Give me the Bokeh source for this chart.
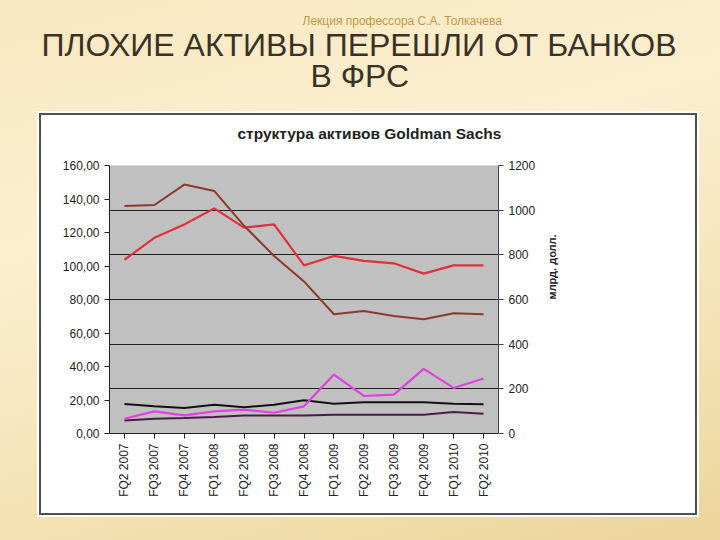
import math
from bokeh.plotting import figure
from bokeh.models import (Range1d, LinearAxis, FixedTicker, Grid, Title, Legend, LegendItem)
from bokeh.embed import file_html
from bokeh.resources import INLINE

# ---------------- data ----------------
quarters = ["FQ2 2007", "FQ3 2007", "FQ4 2007", "FQ1 2008", "FQ2 2008", "FQ3 2008",
            "FQ4 2008", "FQ1 2009", "FQ2 2009", "FQ3 2009", "FQ4 2009", "FQ1 2010", "FQ2 2010"]
short_term_right = [778, 876, 936, 1008, 922, 936, 753, 795, 773, 762, 716, 753, 753]
net_credits = [135.8, 136.4, 148.6, 144.8, 124.0, 106.0, 90.8, 71.2, 73.2, 70.2, 68.2, 71.8, 71.2]
cash = [8.8, 13.2, 10.8, 13.2, 14.2, 12.4, 16.2, 35.2, 22.4, 23.2, 38.6, 27.2, 32.8]
fixed_assets = [7.8, 8.8, 9.2, 9.8, 10.8, 10.8, 10.8, 11.2, 11.2, 11.2, 11.2, 12.8, 11.8]
other_assets = [17.6, 16.2, 15.2, 17.2, 15.6, 17.2, 19.8, 17.8, 18.6, 18.6, 18.6, 17.8, 17.4]

left_ticks = [0, 20, 40, 60, 80, 100, 120, 140, 160]
right_ticks = [0, 200, 400, 600, 800, 1000, 1200]

label_short_term = ["краткосрочные", "инвестиции(права", "я шкала"]
label_net_credits = ["чистые кредиты"]
label_cash = ["наличность"]
label_fixed = ["чистые", "фиксированные", "активы"]
label_other = ["другие активы"]

title_line1 = "ПЛОХИЕ АКТИВЫ ПЕРЕШЛИ ОТ БАНКОВ"
title_line2 = "В ФРС"
subtitle = "Лекция профессора С.А. Толкачева"
chart_title = "структура активов Goldman Sachs"
right_axis_title = "млрд. долл."

# ---------------- figure ----------------
p = figure(frame_width=389, frame_height=268, x_range=quarters, y_range=Range1d(0, 160),
           output_backend="svg", toolbar_location=None,
           min_border_left=109, min_border_right=0, min_border_top=165, min_border_bottom=107)
p.border_fill_color = None
p.background_fill_color = "#c0c0c0"
p.outline_line_color = None
p.styles = {
    "background": (
        "linear-gradient(#ffffff,#ffffff) 41px 115px / 654px 398px no-repeat, "
        "linear-gradient(#505050,#505050) 39px 113px / 658px 402px no-repeat, "
        "linear-gradient(#ffffff,#ffffff) 37px 111px / 662px 406px no-repeat, "
        "linear-gradient(165deg, #f8e8c0 0%, #fbefd0 30%, #f3e0b0 65%, #e6cc8a 100%)"
    )
}

p.extra_y_ranges = {"right": Range1d(0, 1200)}

# left axis
ya = p.yaxis[0]
ya.ticker = FixedTicker(ticks=left_ticks)
ya.major_label_overrides = {t: f"{t},00" for t in left_ticks}
ya.major_label_text_font = "Liberation Sans"
ya.major_label_text_font_size = "12px"
ya.major_label_text_color = "#222222"
ya.axis_line_color = "#222222"
ya.major_tick_line_color = "#222222"
ya.major_tick_out = 5
ya.major_tick_in = 0
ya.minor_tick_line_color = None

# right axis
ra = LinearAxis(y_range_name="right", ticker=FixedTicker(ticks=right_ticks))
ra.major_label_text_font = "Liberation Sans"
ra.major_label_text_font_size = "12px"
ra.major_label_text_color = "#222222"
ra.axis_line_color = "#444444"
ra.major_tick_line_color = "#444444"
ra.major_tick_out = 5
ra.major_tick_in = 0
ra.minor_tick_line_color = None
ra.axis_label = right_axis_title
ra.axis_label_text_font = "Liberation Sans"
ra.axis_label_text_font_size = "11px"
ra.axis_label_text_font_style = "bold"
ra.axis_label_text_color = "#222222"
ra.axis_label_standoff = 14
if "axis_label_orientation" in ra.properties():
    ra.axis_label_orientation = math.pi / 2
p.add_layout(ra, "right")

# bottom axis
xa = p.xaxis[0]
xa.major_label_orientation = math.pi / 2
xa.major_label_text_font = "Liberation Sans"
xa.major_label_text_font_size = "12px"
xa.major_label_text_color = "#222222"
xa.axis_line_color = "#222222"
xa.major_tick_line_color = "#222222"
xa.major_tick_out = 5
xa.major_tick_in = 0

# grid lines from the right scale
p.xgrid.grid_line_color = None
p.ygrid.grid_line_color = None
p.add_layout(Grid(dimension=1, ticker=FixedTicker(ticks=right_ticks[1:]), y_range_name="right",
                  grid_line_color="#202020", grid_line_width=1.2), "center")

# ---------------- series ----------------
r_st = p.line(quarters, short_term_right, y_range_name="right", line_color="#e0303a", line_width=2.2)
r_nc = p.line(quarters, net_credits, line_color="#8a3a2c", line_width=2)
r_fa = p.line(quarters, fixed_assets, line_color="#4a1a48", line_width=2)
r_oa = p.line(quarters, other_assets, line_color="#111111", line_width=2)
r_ca = p.line(quarters, cash, line_color="#e040e0", line_width=2.2)
r_blank = p.line(x=[], y=[], line_alpha=0)   # swatch-less legend rows (wrapped text / gaps)

rows = []
def add_entry(lines, renderer, gap):
    rows.append((lines[0], renderer))
    for extra in lines[1:]:
        rows.append((extra, r_blank))
    for _ in range(gap):
        rows.append((" ", r_blank))

add_entry(label_short_term, r_st, 1)
add_entry(label_net_credits, r_nc, 3)
add_entry(label_cash, r_ca, 3)
add_entry(label_fixed, r_fa, 1)
add_entry(label_other, r_oa, 0)

legend = Legend(items=[LegendItem(label=t, renderers=[r]) for t, r in rows],
                location="top_left", margin=0, padding=6, spacing=0,
                glyph_width=14, glyph_height=16, label_standoff=3, label_height=16,
                label_width=127,
                label_text_font="Liberation Sans", label_text_font_size="12px",
                label_text_color="#222222", background_fill_alpha=0, border_line_color=None)
if "ncols" in legend.properties():
    legend.ncols = 1
p.add_layout(legend, "right")

# ---------------- titles (stacked above the frame) ----------------
p.add_layout(Title(text=chart_title, align="left", offset=128, standoff=48,
                   text_font="Liberation Sans", text_font_size="15.5px",
                   text_font_style="bold", text_color="#222222"), "above")
p.add_layout(Title(text=title_line2, align="left", offset=201, standoff=9,
                   text_font="Liberation Sans", text_font_size="32px",
                   text_font_style="normal", text_color="#3b3226"), "above")
p.add_layout(Title(text=title_line1, align="left", offset=-68, standoff=-22,
                   text_font="Liberation Sans", text_font_size="32px",
                   text_font_style="normal", text_color="#3b3226"), "above")
p.add_layout(Title(text=subtitle, align="left", offset=193, standoff=15,
                   text_font="Liberation Sans", text_font_size="12px",
                   text_font_style="normal", text_color="#c49a48"), "above")

open("out.html", "w").write(file_html(p, INLINE))
